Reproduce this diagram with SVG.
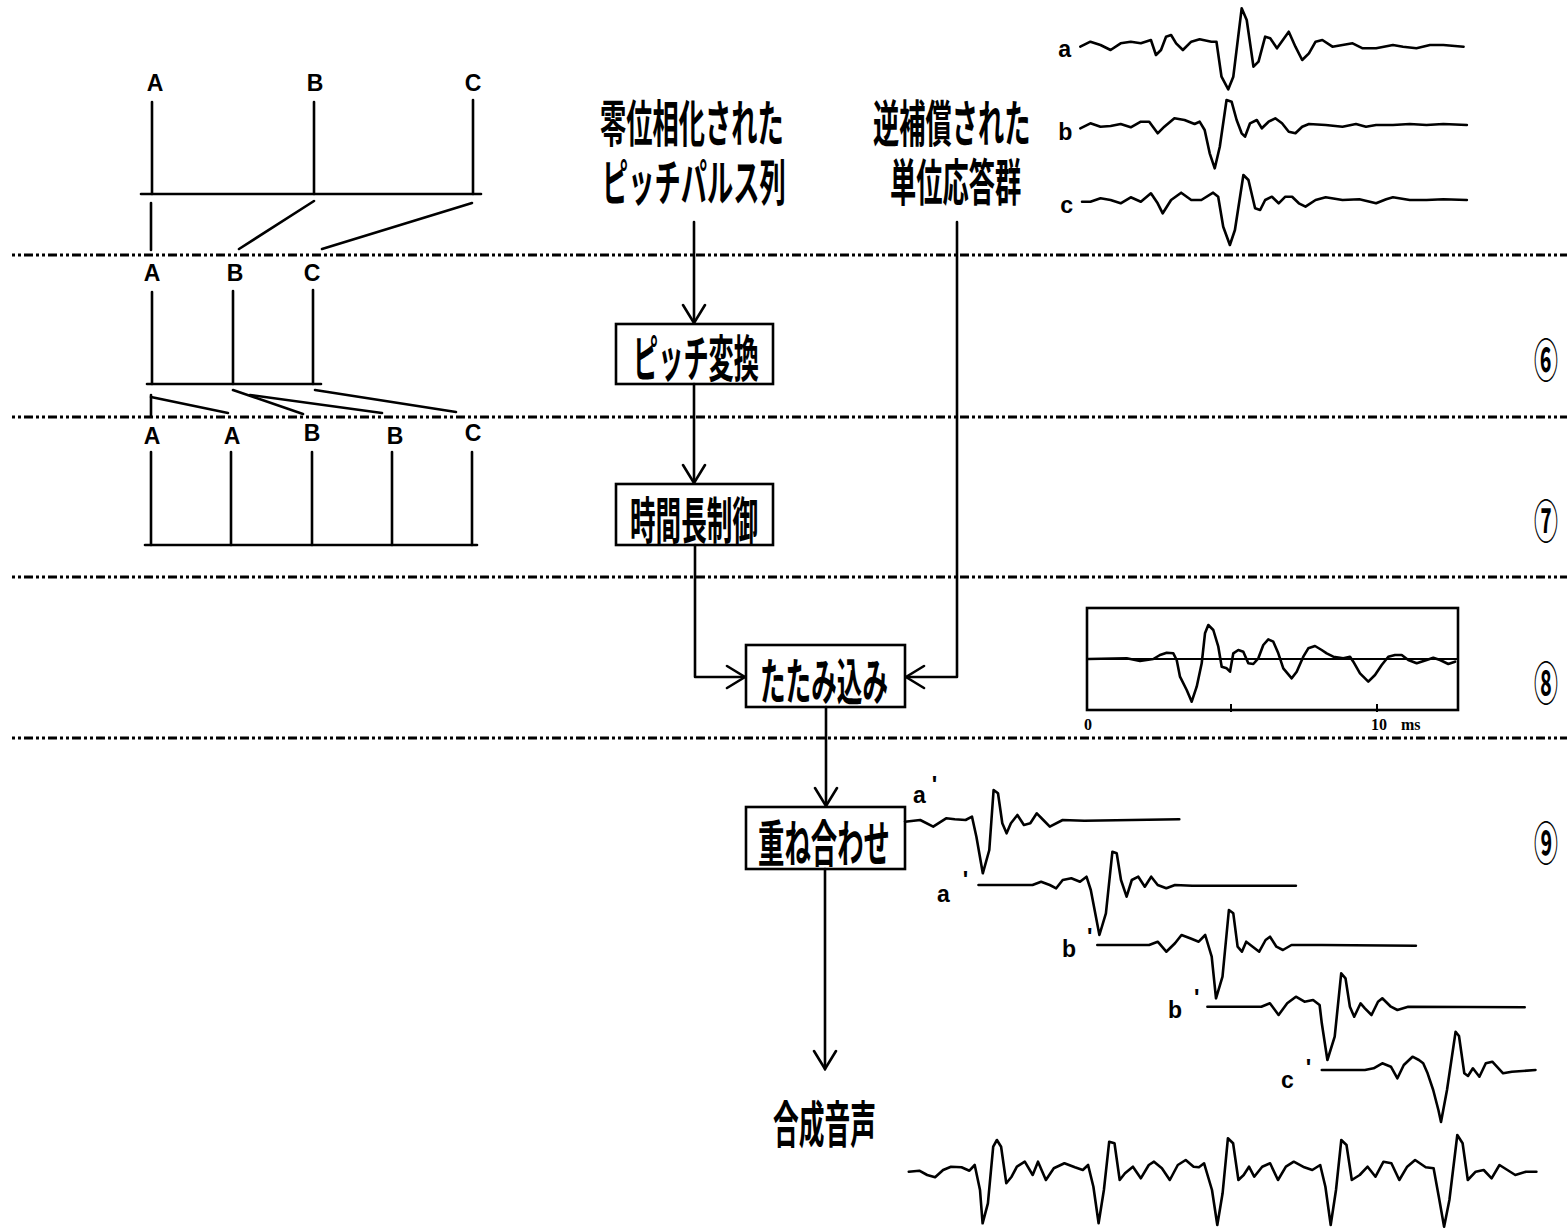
<svg xmlns="http://www.w3.org/2000/svg" width="1567" height="1229" viewBox="0 0 1567 1229">
<style>
  .ln{stroke:#000;stroke-width:2.6;fill:none;stroke-linecap:round;stroke-linejoin:round}
  .dash{stroke:#000;stroke-width:3;fill:none;stroke-dasharray:3 3 3 3 9 3}
  .wave{stroke:#000;stroke-width:2.6;fill:none;stroke-linejoin:round;stroke-linecap:round}
  .box{stroke:#000;stroke-width:2.6;fill:#fff}
  .jp{font-family:'Noto Sans CJK JP','Noto Sans CJK SC',sans-serif;font-size:50px;font-weight:bold;fill:#000}
  .lat{font-family:'Liberation Sans',Arial,sans-serif;font-size:23px;font-weight:bold;fill:#000}
  .sm{font-family:'Liberation Sans',Arial,sans-serif;font-size:23px;font-weight:bold;fill:#000}
  .ser{font-family:'Liberation Serif','Times New Roman',serif;font-size:16px;font-weight:bold;fill:#000}
  .circ{font-family:'Noto Sans CJK JP',sans-serif;font-size:46px;font-weight:bold;fill:#000}
</style>
<defs>
  <marker id="arr" viewBox="0 0 22 26" refX="20" refY="13" markerWidth="22" markerHeight="26" markerUnits="userSpaceOnUse" orient="auto">
    <path d="M2,2 L20,13 L2,24" fill="none" stroke="#000" stroke-width="2.6" stroke-linecap="round" stroke-linejoin="miter"/>
  </marker>
</defs>
<rect width="1567" height="1229" fill="#fff"/>

<g id="separators">
  <line class="dash" x1="12" y1="255" x2="1567" y2="255"/>
  <line class="dash" x1="12" y1="417" x2="1567" y2="417"/>
  <line class="dash" x1="12" y1="577" x2="1567" y2="577"/>
  <line class="dash" x1="12" y1="738" x2="1567" y2="738"/>
</g>

<g id="pulse-original">
  <text class="lat" x="155" y="91" text-anchor="middle">A</text>
  <text class="lat" x="315" y="91" text-anchor="middle">B</text>
  <text class="lat" x="473" y="91" text-anchor="middle">C</text>
  <line class="ln" x1="152" y1="102" x2="152" y2="194"/>
  <line class="ln" x1="314" y1="102" x2="314" y2="194"/>
  <line class="ln" x1="473" y1="100" x2="473" y2="194"/>
  <line class="ln" x1="141" y1="194" x2="481" y2="194"/>
</g>

<g id="pulse-pitch">
  <text class="lat" x="152" y="281" text-anchor="middle">A</text>
  <text class="lat" x="235" y="281" text-anchor="middle">B</text>
  <text class="lat" x="312" y="281" text-anchor="middle">C</text>
  <line class="ln" x1="152" y1="292" x2="152" y2="384"/>
  <line class="ln" x1="233" y1="291" x2="233" y2="384"/>
  <line class="ln" x1="313" y1="290" x2="313" y2="384"/>
  <line class="ln" x1="147" y1="384" x2="321" y2="384"/>
</g>

<g id="pulse-time">
  <text class="lat" x="152" y="444" text-anchor="middle">A</text>
  <text class="lat" x="232" y="444" text-anchor="middle">A</text>
  <text class="lat" x="312" y="441" text-anchor="middle">B</text>
  <text class="lat" x="395" y="444" text-anchor="middle">B</text>
  <text class="lat" x="473" y="441" text-anchor="middle">C</text>
  <line class="ln" x1="151" y1="452" x2="151" y2="545"/>
  <line class="ln" x1="231" y1="452" x2="231" y2="545"/>
  <line class="ln" x1="312" y1="452" x2="312" y2="545"/>
  <line class="ln" x1="392" y1="452" x2="392" y2="545"/>
  <line class="ln" x1="472" y1="452" x2="472" y2="545"/>
  <line class="ln" x1="145" y1="545" x2="477" y2="545"/>
</g>

<g id="pulse-mapping">
  <line class="ln" x1="151" y1="203" x2="151" y2="250"/>
  <line class="ln" x1="314" y1="201" x2="239" y2="249"/>
  <line class="ln" x1="472" y1="203" x2="322" y2="249"/>
  <line class="ln" x1="151" y1="395" x2="151" y2="416"/>
  <line class="ln" x1="151" y1="397" x2="228" y2="413"/>
  <line class="ln" x1="233" y1="390" x2="303" y2="414"/>
  <line class="ln" x1="250" y1="395" x2="382" y2="413"/>
  <line class="ln" x1="315" y1="390" x2="456" y2="412"/>
</g>

<g id="input-pulses">
  <text class="jp" transform="translate(600,0) scale(0.525,1)"><tspan x="0" y="142">零位相化された</tspan><tspan x="3.8" y="201">ピッチパルス列</tspan></text>
</g>
<g id="input-responses">
  <text class="jp" transform="translate(873,0) scale(0.525,1)"><tspan x="0" y="142">逆補償された</tspan><tspan x="32.4" y="201">単位応答群</tspan></text>
</g>

<g id="node-pitch">
  <rect class="box" x="616" y="324" width="157" height="60"/>
  <text class="jp" transform="translate(633,377) scale(0.504,1)">ピッチ変換</text>
</g>
<g id="node-time">
  <rect class="box" x="616" y="484" width="157" height="61"/>
  <text class="jp" transform="translate(630,539) scale(0.512,1)">時間長制御</text>
</g>
<g id="node-conv">
  <rect class="box" x="746" y="645" width="159" height="62"/>
  <text class="jp" transform="translate(760,700) scale(0.512,1)">たたみ込み</text>
</g>
<g id="node-overlap">
  <rect class="box" x="746" y="807" width="159" height="62"/>
  <text class="jp" transform="translate(758,862) scale(0.528,1)">重ね合わせ</text>
</g>
<g id="output">
  <text class="jp" transform="translate(773,1143) scale(0.515,1)">合成音声</text>
</g>

<g id="connectors">
  <line class="ln" x1="694" y1="222" x2="694" y2="323" marker-end="url(#arr)"/>
  <line class="ln" x1="694" y1="384" x2="694" y2="483" marker-end="url(#arr)"/>
  <polyline class="ln" points="695,545 695,677 745,677" marker-end="url(#arr)"/>
  <polyline class="ln" points="957,222 957,677 906,677" marker-end="url(#arr)"/>
  <line class="ln" x1="826" y1="707" x2="826" y2="806" marker-end="url(#arr)"/>
  <line class="ln" x1="825" y1="869" x2="825" y2="1069" marker-end="url(#arr)"/>
</g>

<g id="unit-responses" transform="matrix(1.0084 0 0 1 -8.74 0)">
  <text class="sm" x="1058" y="57">a</text>
  <text class="sm" x="1058" y="140">b</text>
  <text class="sm" x="1060" y="213">c</text>
  <polyline class="wave" points="1080,46.7 1090,41.7 1100,45 1110,50 1120,43.3 1130,41.7 1140,43.3 1150,40 1155,55 1160,50 1165,36.7 1170,35 1175,43.3 1181.7,50 1190,41.7 1198.3,39.3 1210,41.7 1215,41.7 1220,76.7 1226.7,89.3 1231.7,76.7 1240,8.3 1245,20 1251.7,66.7 1256.7,61.7 1263.3,36.7 1268.3,38.3 1275,48.3 1286.7,31.7 1293.3,46.7 1300,60 1306.7,53.3 1313.3,41.7 1320,40 1330,46.7 1340,45 1350,43.3 1360,48.3 1373.3,48.3 1390,45 1400,46.7 1413.3,48.3 1426.7,45 1440,45 1460,46.7"/>
  <polyline class="wave" points="1080,128.3 1090,123.3 1100,126.7 1110,126 1120,124 1130,127.3 1140,121.7 1148.3,121.7 1156.7,133.3 1163.3,126.7 1173.3,118.3 1183.3,120 1193.3,124 1198.3,121.7 1203.3,130 1208.3,153.3 1213.3,168.3 1218.3,146.7 1225,100 1230,101.7 1235,120 1240,133.3 1243.3,136.7 1248.3,123.3 1255,120 1260,128.3 1266.7,121.7 1273.3,118.3 1280,123.3 1286.7,131.7 1293.3,133.3 1300,126.7 1306.7,124 1323.3,125 1340,126.7 1353.3,124 1363.3,126.7 1373.3,125 1390,125 1406.7,124 1423.3,125 1440,124 1463.3,125"/>
  <polyline class="wave" points="1081.7,201.7 1090,201.7 1100,198.3 1110,200 1120,203.3 1130,197.3 1140,201.7 1150,193.3 1156.7,203.3 1161.7,213.3 1170,200 1180,192.7 1190,200 1200,200 1211.7,192.7 1216.7,196.7 1221.7,226.7 1228.3,245 1233.3,230 1241.7,175 1246.7,180 1253.3,208.3 1258.3,210 1263.3,200 1270,196.7 1276.7,203.3 1283.3,196.7 1290,196.7 1296.7,203.3 1303.3,206.7 1313.3,200 1323.3,197.3 1340,200 1356.7,199.3 1373.3,203.3 1383.3,199.3 1390,197.3 1406.7,200 1423.3,200 1440,199.3 1463.3,200"/>
</g>

<g id="conv-result">
  <rect x="1087" y="608" width="371" height="102" fill="none" stroke="#000" stroke-width="2.6"/>
  <line x1="1087" y1="659" x2="1458" y2="659" stroke="#000" stroke-width="2.2"/>
  <line x1="1231" y1="704" x2="1231" y2="712" stroke="#000" stroke-width="2"/>
  <line x1="1377" y1="704" x2="1377" y2="712" stroke="#000" stroke-width="2"/>
  <polyline class="wave" points="1088.3,659 1126.7,658.3 1140,661 1153.3,659 1160,655 1166.7,652.7 1173.3,653.3 1176.7,660 1180,676.7 1186.7,690 1191.7,701.7 1196.7,686.7 1201.7,663.3 1205,633.3 1208.3,625 1213.3,630 1218.3,646.7 1221.7,666.7 1226.7,668.3 1230,671.7 1233.3,653.3 1238.3,650 1243.3,651.7 1248.3,663.3 1253.3,664 1258.3,658.3 1263.3,645 1268.3,639.3 1273.3,641.7 1278.3,653.3 1283.3,668.3 1291.7,678.3 1296.7,671.7 1303.3,656.7 1308.3,648.3 1315,646 1321.7,650 1326.7,653.3 1333.3,656.7 1343.3,658.3 1350,656.7 1353.3,661.7 1360,673.3 1368.3,681.7 1375,675 1381.7,665 1388.3,656.7 1395,655 1401.7,655 1408.3,660 1416.7,663.3 1426.7,660 1433.3,657.7 1440,660 1448.3,664 1455,661.7"/>
  <text class="ser" x="1088" y="730" text-anchor="middle">0</text>
  <text class="ser" x="1371" y="730">10<tspan dx="14">ms</tspan></text>
</g>

<g id="step-labels">
  <text class="circ" text-anchor="middle" transform="translate(1546,377) scale(0.52,1)">⑥</text>
  <text class="circ" text-anchor="middle" transform="translate(1546,538) scale(0.52,1)">⑦</text>
  <text class="circ" text-anchor="middle" transform="translate(1546,700) scale(0.52,1)">⑧</text>
  <text class="circ" text-anchor="middle" transform="translate(1546,860) scale(0.52,1)">⑨</text>
</g>

<g id="overlap-waves">
  <text class="sm" x="913" y="803">a<tspan dx="6" dy="-10">'</tspan></text>
  <polyline class="wave" points="905,821.7 920.2,820 933.2,826.7 946.1,818.3 954.8,819.3 965.6,820 972,816.7 976.4,836.7 982.8,873.3 989.3,850 993.6,790 998,793.3 1002.3,823.3 1006.6,833.3 1010.9,823.3 1017.4,815 1023.9,825 1030.3,823.3 1036.8,813.3 1043.3,820 1049.8,826.7 1062.7,820 1084.3,820.7 1179.3,819.3"/>
  <text class="sm" x="937" y="902">a<tspan dx="13" dy="-14">'</tspan></text>
  <polyline class="wave" points="978.5,885 1032.5,885 1041.1,881.7 1049.8,885 1056.2,888.3 1062.7,880 1071.3,878.3 1080,881.7 1086.5,876.7 1090.8,890 1099.4,935 1105.9,913.3 1112.4,851.7 1116.7,853.3 1121,880 1126.6,896.7 1131.8,880 1138.3,876.7 1144.8,886.7 1151.2,876.7 1157.7,885 1166.3,888.3 1175,885 1192.2,885.7 1295.9,885.7"/>
  <text class="sm" x="1062" y="957">b<tspan dx="11" dy="-12">'</tspan></text>
  <polyline class="wave" points="1097.3,945 1149.1,945 1157.7,941.7 1166.3,951.7 1175,943.3 1181.5,935 1190.1,938.3 1198.7,941.7 1205.2,935 1211.7,956.7 1216,998.3 1222.5,976.7 1228.9,910 1233.3,913.3 1237.6,946.7 1241.9,951.7 1246.2,941.7 1252.7,946.7 1259.2,951.7 1265.6,940 1270,936.7 1276.4,946.7 1282.9,950 1291.5,945 1321.8,945 1415.9,945.7"/>
  <text class="sm" x="1168" y="1018">b<tspan dx="12" dy="-12">'</tspan></text>
  <polyline class="wave" points="1207.4,1006.7 1261.3,1006.7 1269.9,1003.3 1278.6,1015 1287.2,1003.3 1295.9,996.7 1304.5,1001.7 1313.1,1000 1319.6,1005 1321.8,1023.3 1327.4,1060 1334.7,1036.7 1341.2,973.3 1345.5,978.3 1349.9,1006.7 1354.2,1016.7 1360.6,1003.3 1364.9,1008.3 1371.5,1015 1378,1001.7 1382.3,998.3 1390.9,1006.7 1397.4,1010 1408.2,1006.7 1524.7,1007.3"/>
  <text class="sm" x="1281" y="1088">c<tspan dx="12" dy="-12">'</tspan></text>
  <polyline class="wave" points="1321.8,1070 1364.9,1070 1373.6,1068.3 1382.3,1063.3 1390.9,1066.7 1397.4,1078.3 1403.8,1065 1412.5,1056.7 1418.9,1060 1423.2,1063.3 1427.6,1073.3 1433.2,1090 1438.4,1110 1441,1122 1447,1090 1455.6,1031.7 1459,1036 1464.3,1073.3 1468,1076 1472.9,1068.3 1479.4,1076.7 1485.8,1063.3 1492.3,1061.7 1503.1,1073.3 1511.8,1071.7 1535.5,1070"/>
</g>

<g id="synth-wave">
  <polyline class="wave" points="908.8,1171.7 919.3,1170.7 927.2,1175 935.1,1177.3 943.1,1170 951,1166.7 961.5,1167.3 969.4,1170.7 974.7,1165 980,1190 982.6,1223.3 987.9,1203.3 993.2,1146.7 996.9,1140 1001.1,1146.7 1006.3,1183.3 1011.6,1176.7 1016.9,1166.7 1024.8,1161.7 1032.7,1175 1038,1161.7 1045.9,1180 1053.8,1168.3 1064.4,1163.3 1074.9,1167.3 1082.8,1170 1088.1,1165 1093.4,1186.7 1098.6,1223.3 1103.9,1190 1109.2,1141.7 1114.5,1143.3 1119.7,1180 1125,1173.3 1132.9,1166.7 1140.8,1178.3 1148.8,1165 1154,1161.7 1161.9,1168.3 1169.8,1180 1177.8,1165 1185.7,1160 1193.6,1166.7 1198.9,1167.3 1204.1,1163.3 1212,1190 1217.3,1225 1222.6,1193.3 1227.9,1138.3 1233.1,1143.3 1238.4,1180 1243.7,1175 1249,1166.7 1254.2,1176.7 1262.2,1166.7 1270.1,1163.3 1278,1180 1285.9,1166.7 1293.8,1161.7 1304.3,1167.3 1312.3,1170 1320.2,1165 1325.4,1186.7 1330.7,1225 1336,1190 1341.3,1140 1346.5,1145 1351.8,1180 1359.7,1175 1367.6,1166.7 1375.5,1176.7 1383.5,1161.7 1391.4,1163.3 1399.3,1180 1407.2,1166.7 1415.1,1160 1425.7,1167.3 1433.6,1168.3 1438.8,1196.7 1444.1,1226.7 1449.4,1200 1457.3,1135 1462.6,1143.3 1467.8,1180 1475.7,1171.7 1483.7,1170 1491.6,1178.3 1499.5,1165 1507.4,1170 1515.3,1175 1525.9,1171.7 1536.4,1171.7"/>
</g>
</svg>
